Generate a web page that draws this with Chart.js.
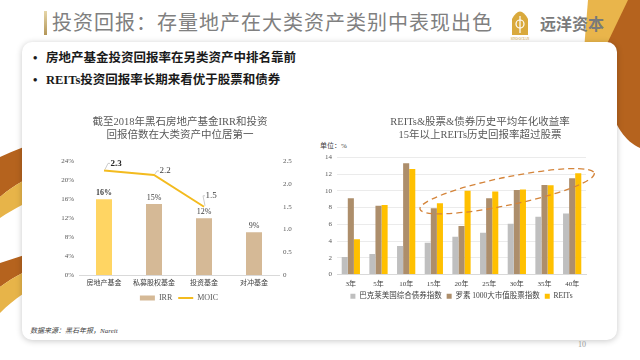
<!DOCTYPE html>
<html>
<head>
<meta charset="utf-8">
<script src="https://cdn.jsdelivr.net/npm/chart.js@4.4.1/dist/chart.umd.min.js"></script>
<style>
  body { margin: 0; width: 640px; height: 360px; overflow: hidden; background: #fff; position: relative;
         font-family: 'Liberation Serif', 'Noto Sans CJK SC', serif; }
  .abs { position: absolute; }
  #card { left: 22px; top: 42px; width: 595px; height: 298px; background: #fff; border-radius: 10px;
          box-shadow: 0 1px 6px rgba(0,0,0,0.22); }
  #title { left: 52px; top: 8px; font-family: 'Noto Sans CJK SC'; font-size: 20px; letter-spacing: 1px;
           color: #808080; line-height: 28px; white-space: nowrap; }
  #titleBar { left: 44px; top: 11px; width: 3px; height: 24px; background: linear-gradient(#E6D6A8, #B39658); }
  #brand { left: 540px; top: 12px; font-family: 'Noto Sans CJK SC'; font-weight: bold; font-size: 16px;
           color: #7a7a7a; line-height: 22px; }
  .bullet { left: 33px; font-size: 12.5px; font-weight: bold; color: #1a1a1a; white-space: nowrap; line-height: 16px; }
  .bullet span { display: inline-block; width: 13px; }
  #source { left: 30px; top: 325px; font-size: 7px; font-style: italic; color: #404040; }
  #unit { left: 320px; top: 140px; font-size: 7px; color: #404040; }
  #page { left: 578px; top: 340px; font-size: 8px; color: #999; }
  canvas { position: absolute; }
</style>
</head>
<body>
<svg class="abs" width="640" height="360" style="left:0;top:0">
  <path d="M0,157 C15,150 30,144 45,140 L45,172 C30,176 15,184 0,197 Z" fill="#B5631E"/>
  <path d="M0,197 C15,184 30,176 45,172 L45,196 C30,200 15,208 0,218 Z" fill="#E7B449"/>
  <path d="M0,263 C15,258 30,253 45,249 L45,264 C30,268 15,276 0,287 Z" fill="#B5631E"/>
  <path d="M0,287 C15,276 30,268 45,264 L45,283 C30,288 15,298 0,313 Z" fill="#E7B449"/>
  <path d="M588,0 L640,0 L640,18 L606,50 L584,50 Z" fill="#E9B54B"/>
  <path d="M628,0 L640,0 L640,148 C626,142 614,126 608,100 L604,50 Z" fill="#B5631E"/>
  <path d="M512,35 L512,19 Q520,4 528,19 L528,35 Z" fill="#D9A93C"/>
  <circle cx="520" cy="24" r="4" fill="none" stroke="#fff" stroke-width="1.2"/>
  <line x1="520" y1="16" x2="520" y2="33" stroke="#fff" stroke-width="1.2"/>
  <text x="520" y="40" font-size="3" text-anchor="middle" fill="#C9972E">SINO-OCEAN</text>
</svg>
<div id="card" class="abs"></div>
<div id="titleBar" class="abs"></div>
<div id="title" class="abs">投资回报：存量地产在大类资产类别中表现出色</div>
<div id="brand" class="abs">远洋资本</div>
<div class="abs bullet" style="top:50px"><span>•</span>房地产基金投资回报率在另类资产中排名靠前</div>
<div class="abs bullet" style="top:72px"><span>•</span>REITs投资回报率长期来看优于股票和债券</div>
<div id="unit" class="abs">单位：%</div>
<div id="source" class="abs">数据来源：黑石年报，Nareit</div>
<div id="page" class="abs">10</div>

<canvas id="fundChart" style="left:60px;top:110px" width="240" height="202"></canvas>
<canvas id="reitChart" style="left:322px;top:110px" width="316" height="200"></canvas>

<script>
// left chart: Blackstone fund returns
const fundLabels = ['房地产基金', '私募股权基金', '投资基金', '对冲基金']
const irrValues = [16, 15, 12, 9]
const moicValues = [2.3, 2.2, 1.5, null]

// right chart: annualized returns by horizon
const horizonLabels = ['3年', '5年', '10年', '15年', '20年', '25年', '30年', '35年', '40年']
const bondValues = [2.1, 2.45, 3.4, 3.8, 4.5, 5.0, 6.05, 6.9, 7.3]
const stockValues = [9.1, 8.2, 13.3, 7.9, 5.8, 9.1, 10.1, 10.7, 11.5]
const reitValues = [4.2, 8.3, 12.6, 8.5, 10.0, 9.9, 10.15, 10.65, 12.1]

const fontFamily = "'Liberation Serif', 'Noto Sans CJK SC', serif"
Chart.defaults.font.family = fontFamily
Chart.defaults.color = '#595959'
Chart.defaults.animation = false

const TAN = '#D5B996'
const YELLOW = '#FFD563'
const GOLD_LINE = '#F3BB1F'

// value labels for the left chart, with small leader lines on the MOIC points
const fundLabelPlugin = {
  id: 'fundLabels',
  afterDatasetsDraw(chart, args, opts) {
    const ctx = chart.ctx
    ctx.save()
    ctx.textAlign = 'center'
    ctx.textBaseline = 'middle'
    const barMeta = chart.getDatasetMeta(0)
    barMeta.data.forEach((bar, i) => {
      ctx.font = (i === 0 ? 'bold ' : '') + '8px ' + fontFamily
      ctx.fillStyle = '#404040'
      ctx.fillText(irrValues[i] + '%', bar.x, bar.y - 6)
    })
    const lineMeta = chart.getDatasetMeta(1)
    lineMeta.data.forEach((pt, i) => {
      if (moicValues[i] == null) return
      const off = opts.offsets[i]
      const lx = pt.x + off[0], ly = pt.y + off[1]
      ctx.strokeStyle = '#BFBFBF'
      ctx.lineWidth = 0.8
      ctx.beginPath()
      ctx.moveTo(pt.x + 1, pt.y - 1)
      ctx.lineTo(lx - 8, ly)
      ctx.lineTo(lx - 6, ly)
      ctx.stroke()
      ctx.font = (i === 0 ? 'bold ' : '') + '9px ' + fontFamily
      ctx.fillStyle = i === 0 ? '#262626' : '#404040'
      ctx.fillText(moicValues[i].toFixed(1), lx, ly)
    })
    ctx.restore()
  }
}

new Chart(document.getElementById('fundChart'), {
  data: {
    labels: fundLabels,
    datasets: [
      {
        type: 'bar',
        label: 'IRR',
        data: irrValues,
        backgroundColor: irrValues.map((v, i) => i === 0 ? YELLOW : TAN),
        yAxisID: 'y',
        barPercentage: 0.32,
        categoryPercentage: 1,
        pointStyle: 'rect',
        order: 1
      },
      {
        type: 'line',
        label: 'MOIC',
        data: moicValues,
        borderColor: GOLD_LINE,
        backgroundColor: GOLD_LINE,
        borderWidth: 2,
        pointRadius: 0,
        pointStyle: 'line',
        yAxisID: 'y1',
        order: 0
      }
    ]
  },
  options: {
    responsive: false,
    layout: { padding: 0 },
    plugins: {
      title: {
        display: true,
        text: ['截至2018年黑石房地产基金IRR和投资', '回报倍数在大类资产中位居第一'],
        color: '#595959',
        font: { size: 10.5, weight: 'normal', lineHeight: 1.3 },
        padding: { top: 5, bottom: 19 }
      },
      legend: {
        position: 'bottom',
        fullSize: false,
        labels: {
          usePointStyle: true,
          pointStyleWidth: 15,
          boxHeight: 5,
          padding: 6,
          color: '#595959',
          font: { size: 8 },
          sort: (a, b) => a.datasetIndex - b.datasetIndex,
          generateLabels(chart) {
            const items = Chart.defaults.plugins.legend.labels.generateLabels(chart)
            items.forEach(it => {
              if (it.datasetIndex === 0) { it.fillStyle = TAN; it.strokeStyle = TAN; it.lineWidth = 0 }
              else { it.strokeStyle = GOLD_LINE; it.lineWidth = 2 }
            })
            return items
          }
        }
      },
      tooltip: { enabled: false },
      fundLabels: { offsets: [[12, -7], [11, -4], [7, -11]] }
    },
    scales: {
      x: {
        grid: { display: false, drawTicks: false },
        border: { color: '#D9D9D9' },
        ticks: { font: { size: 7 }, color: '#404040', padding: 4, maxRotation: 0, autoSkip: false },
        afterFit: s => { s.height = 13 }
      },
      y: {
        min: 0, max: 24,
        grid: { display: false, drawTicks: false },
        border: { display: false },
        ticks: { stepSize: 4, font: { size: 7 }, padding: 5, callback: v => v + '%' },
        afterFit: s => { s.width = 19 }
      },
      y1: {
        position: 'right',
        min: 0, max: 2.5,
        grid: { display: false, drawTicks: false },
        border: { display: false },
        ticks: { stepSize: 0.5, font: { size: 7 }, padding: 4 },
        afterFit: s => { s.width = 21 }
      }
    }
  },
  plugins: [fundLabelPlugin]
})

// dashed ellipse around the 15-40 year groups
const ellipsePlugin = {
  id: 'ringNote',
  afterDatasetsDraw(chart, args, opts) {
    const xs = chart.scales.x, ys = chart.scales.y
    const x1 = xs.getPixelForValue(opts.from[0]), y1 = ys.getPixelForValue(opts.from[1])
    const x2 = xs.getPixelForValue(opts.to[0]), y2 = ys.getPixelForValue(opts.to[1])
    const cx = (x1 + x2) / 2, cy = (y1 + y2) / 2
    const a = Math.hypot(x2 - x1, y2 - y1) / 2
    const ang = Math.atan2(y2 - y1, x2 - x1)
    const ctx = chart.ctx
    ctx.save()
    ctx.strokeStyle = opts.color
    ctx.lineWidth = 1.3
    ctx.setLineDash([6, 4])
    ctx.beginPath()
    ctx.ellipse(cx, cy, a, opts.minor, ang, 0, Math.PI * 2)
    ctx.stroke()
    ctx.restore()
  }
}

new Chart(document.getElementById('reitChart'), {
  type: 'bar',
  data: {
    labels: horizonLabels,
    datasets: [
      { label: '巴克莱美国综合债券指数', data: bondValues, backgroundColor: '#BFBFBF' },
      { label: '罗素 1000大市值股票指数', data: stockValues, backgroundColor: '#AD8E6B' },
      { label: 'REITs', data: reitValues, backgroundColor: '#FFC000' }
    ]
  },
  options: {
    responsive: false,
    layout: { padding: 0 },
    datasets: { bar: { barPercentage: 1, categoryPercentage: 0.66 } },
    plugins: {
      title: {
        display: true,
        text: ['REITs&股票&债券历史平均年化收益率', '15年以上REITs历史回报率超过股票'],
        color: '#595959',
        font: { size: 10.5, weight: 'normal', lineHeight: 1.3 },
        padding: { top: 5, bottom: 15 }
      },
      legend: {
        position: 'bottom',
        fullSize: false,
        labels: { boxWidth: 5, boxHeight: 5, padding: 5, color: '#404040', font: { size: 7.5 } }
      },
      tooltip: { enabled: false },
      ringNote: { from: [2.5, 7.8], to: [8.8, 12.1], minor: 14, color: '#D4843A' }
    },
    scales: {
      x: {
        grid: { display: false, drawTicks: false },
        border: { color: '#D9D9D9' },
        ticks: { font: { size: 7 }, color: '#404040', padding: 5, maxRotation: 0, autoSkip: false },
        afterFit: s => { s.height = 13 }
      },
      y: {
        min: 0, max: 14,
        grid: { color: '#E6E6E6', lineWidth: 0.8, drawTicks: false },
        border: { display: false },
        ticks: { stepSize: 2, font: { size: 7 }, padding: 5 },
        afterFit: s => { s.width = 15 }
      },
      pad: {
        type: 'linear',
        position: 'right',
        grid: { display: false, drawTicks: false },
        border: { display: false },
        ticks: { display: false },
        afterFit: s => { s.width = 52 }
      }
    }
  },
  plugins: [ellipsePlugin]
})
</script>
</body>
</html>
